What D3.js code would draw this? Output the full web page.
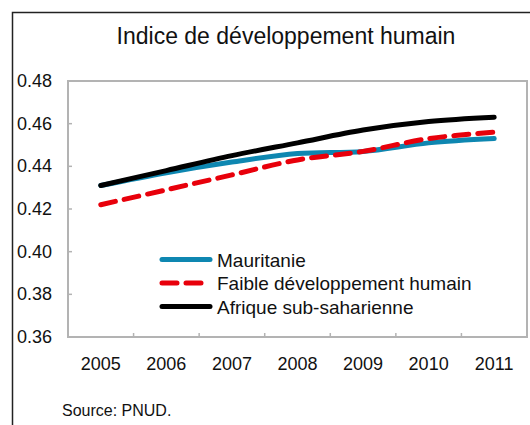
<!DOCTYPE html>
<html lang="fr">
<head>
<meta charset="UTF-8">
<title>Indice de développement humain</title>
<script src="https://d3js.org/d3.v7.min.js"></script>
<style>
    body { margin: 0; background: #fff; }
    svg { display: block; font-family: "Liberation Sans", Arial, sans-serif; }
</style>
</head>
<body>
<svg id="chart" width="530" height="425"></svg>
<script>
// data
const years = ['2005', '2006', '2007', '2008', '2009', '2010', '2011'];
const mauritanie = [0.431, 0.437, 0.442, 0.446, 0.447, 0.451, 0.453];
const faible = [0.422, 0.429, 0.436, 0.443, 0.447, 0.453, 0.456];
const afrique = [0.431, 0.438, 0.445, 0.451, 0.457, 0.461, 0.463];
const yTicks = [0.36, 0.38, 0.40, 0.42, 0.44, 0.46, 0.48];
const seriesNames = ['Mauritanie', 'Faible développement humain', 'Afrique sub-saharienne'];

const series = [
    { name: seriesNames[0], values: mauritanie, color: '#0e87b1', dash: null },
    { name: seriesNames[1], values: faible, color: '#e8000b', dash: '15,9' },
    { name: seriesNames[2], values: afrique, color: '#000000', dash: null }
];

const svg = d3.select('#chart');
const plot = { left: 68, right: 527, top: 81, bottom: 337 };

const x = d3.scaleBand().domain(years).range([plot.left, plot.right]);
const y = d3.scaleLinear().domain([0.36, 0.48]).range([plot.bottom, plot.top]);

// outer frame (left + top edges visible)
svg.append('path')
    .attr('d', 'M12.5,425 L12.5,12.5 L530,12.5')
    .attr('fill', 'none')
    .attr('stroke', '#222')
    .attr('stroke-width', 1.5);

// title
svg.append('text')
    .attr('x', 286)
    .attr('y', 44)
    .attr('text-anchor', 'middle')
    .attr('font-size', 23)
    .attr('fill', '#111')
    .text('Indice de développement humain');

// plot area border
svg.append('rect')
    .attr('x', plot.left)
    .attr('y', plot.top)
    .attr('width', plot.right - plot.left)
    .attr('height', plot.bottom - plot.top)
    .attr('fill', 'none')
    .attr('stroke', '#b3b3b3')
    .attr('stroke-width', 2);

// y axis ticks + labels
const gy = svg.append('g');
gy.selectAll('line')
    .data(yTicks)
    .enter()
    .append('line')
    .attr('x1', plot.left)
    .attr('x2', plot.left + 4)
    .attr('y1', d => y(d))
    .attr('y2', d => y(d))
    .attr('stroke', '#b3b3b3')
    .attr('stroke-width', 1.5);
gy.selectAll('text')
    .data(yTicks)
    .enter()
    .append('text')
    .attr('x', 52)
    .attr('y', d => y(d) + 6)
    .attr('text-anchor', 'end')
    .attr('font-size', 18)
    .attr('fill', '#111')
    .text(d3.format('.2f'));

// x axis ticks (between categories) + labels
const gx = svg.append('g');
gx.selectAll('line')
    .data(years.slice(1))
    .enter()
    .append('line')
    .attr('x1', d => x(d))
    .attr('x2', d => x(d))
    .attr('y1', plot.bottom)
    .attr('y2', plot.bottom - 4)
    .attr('stroke', '#b3b3b3')
    .attr('stroke-width', 1.5);
gx.selectAll('text')
    .data(years)
    .enter()
    .append('text')
    .attr('x', d => x(d) + x.bandwidth() / 2)
    .attr('y', 370)
    .attr('text-anchor', 'middle')
    .attr('font-size', 18)
    .attr('fill', '#111')
    .text(d => d);

// lines
const line = d3.line()
    .x((d, i) => x(years[i]) + x.bandwidth() / 2)
    .y(d => y(d))
    .curve(d3.curveCatmullRom.alpha(0.5));

svg.append('g')
    .selectAll('path')
    .data(series)
    .enter()
    .append('path')
    .attr('d', d => line(d.values))
    .attr('fill', 'none')
    .attr('stroke', d => d.color)
    .attr('stroke-width', 5)
    .attr('stroke-linecap', 'round')
    .attr('stroke-dasharray', d => d.dash);

// legend
const legend = svg.append('g')
    .selectAll('g')
    .data(series)
    .enter()
    .append('g')
    .attr('transform', (d, i) => `translate(0, ${259.5 + i * 23.5})`);

legend.append('line')
    .attr('x1', 162)
    .attr('x2', 210)
    .attr('y1', 0)
    .attr('y2', 0)
    .attr('stroke', d => d.color)
    .attr('stroke-width', 5)
    .attr('stroke-linecap', 'round')
    .attr('stroke-dasharray', d => d.dash);

legend.append('text')
    .attr('x', 217)
    .attr('y', 7)
    .attr('font-size', 19)
    .attr('fill', '#111')
    .text(d => d.name);

// source
svg.append('text')
    .attr('x', 62)
    .attr('y', 416)
    .attr('font-size', 16)
    .attr('fill', '#111')
    .text('Source: PNUD.');
</script>
</body>
</html>
